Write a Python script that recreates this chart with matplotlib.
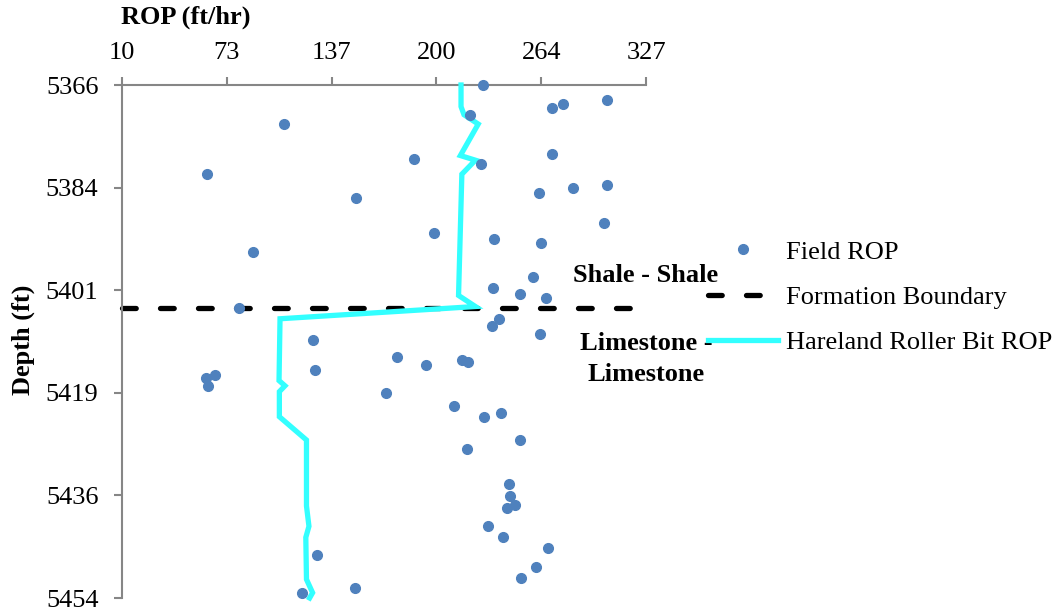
import matplotlib
matplotlib.use("Agg")
import matplotlib.pyplot as plt
import numpy as np
from matplotlib.lines import Line2D

plt.rcParams['font.family'] = ['Liberation Serif', 'DejaVu Serif']

# Field ROP measurements
field_rop = [228.3, 303.7, 276.9, 270.4, 220.3, 108.0, 270.4, 186.9, 227.4, 61.4,
             303.7, 283.0, 262.2, 151.7, 301.5, 198.9, 234.8, 263.7, 89.3, 258.5,
             234.6, 251.0, 266.8, 80.6, 238.0, 234.1, 262.9, 125.5, 176.1, 215.8,
             219.5, 194.2, 66.1, 126.8, 61.0, 61.8, 170.0, 210.6, 229.0, 239.1,
             250.6, 218.6, 244.1, 244.5, 243.2, 247.9, 231.3, 240.6, 267.8, 260.3,
             251.4, 127.9, 151.0, 118.6]
field_depth = [5366.0, 5368.5, 5369.2, 5370.0, 5371.1, 5372.7, 5377.9, 5378.7, 5379.5, 5381.2,
               5383.2, 5383.7, 5384.5, 5385.4, 5389.7, 5391.4, 5392.4, 5393.1, 5394.7, 5398.9,
               5400.9, 5401.9, 5402.5, 5404.2, 5406.1, 5407.4, 5408.7, 5409.7, 5412.7, 5413.1,
               5413.6, 5414.1, 5415.7, 5414.9, 5416.3, 5417.6, 5418.9, 5421.0, 5422.9, 5422.2,
               5426.9, 5428.5, 5434.4, 5436.5, 5438.5, 5438.1, 5441.7, 5443.6, 5445.4, 5448.6,
               5450.6, 5446.6, 5452.2, 5453.1]

# Hareland roller bit model ROP
hr_rop = [215.1, 215.1, 216.9, 225.5, 214.7, 223.8, 215.6, 213.6, 223.8, 105.6,
          105.0, 108.6, 105.2, 105.2, 121.6, 121.6, 123.1, 121.2, 121.6, 125.3, 123.5]
hr_depth = [5366.0, 5369.7, 5371.1, 5372.7, 5378.1, 5378.9, 5381.3, 5402.1, 5404.0, 5406.1,
            5416.7, 5417.6, 5418.6, 5422.9, 5426.9, 5438.2, 5441.7, 5443.6, 5450.8, 5453.1, 5454.0]

# Formation boundary
boundary_rop = [10, 327]
boundary_depth = [5404.2, 5404.2]

x_ticks = [10, 73.4, 136.8, 200.2, 263.6, 327]
x_labels = ['10', '73', '137', '200', '264', '327']
y_ticks = [5366, 5383.6, 5401.2, 5418.8, 5436.4, 5454]
y_labels = ['5366', '5384', '5401', '5419', '5436', '5454']

W, H = 1062, 613
fig = plt.figure(figsize=(W / 100, H / 100), dpi=100)
ax = fig.add_axes([122 / W, 1 - 598 / H, (646 - 122) / W, (598 - 85) / H])

FS = 19
grey = '#868686'

ax.plot(boundary_rop, boundary_depth, color='black', lw=3.8, dashes=(2.6, 4.6),
        dash_capstyle='round', label='Formation Boundary', zorder=2, clip_on=False)
ax.plot(hr_rop, hr_depth, color='#33FFFF', lw=3.8, solid_joinstyle='miter',
        label='Hareland Roller Bit ROP', zorder=3, clip_on=False)
ax.plot(field_rop, field_depth, linestyle='none', marker='o', ms=7,
        color='#4F81BD', label='Field ROP', zorder=4, clip_on=False)

ax.set_xlim(10, 327)
ax.set_ylim(5454, 5366)
ax.xaxis.tick_top()
ax.set_xticks(x_ticks)
ax.set_xticklabels(x_labels)
ax.set_yticks(y_ticks)
ax.set_yticklabels(y_labels)
ax.tick_params(axis='x', which='major', direction='out', length=6, width=1.5,
               color=grey, labelsize=FS, pad=9)
ax.tick_params(axis='y', which='major', direction='out', length=6, width=1.5,
               color=grey, labelsize=FS, pad=11)
for s in ['right', 'bottom']:
    ax.spines[s].set_visible(False)
for s in ['left', 'top']:
    ax.spines[s].set_color(grey)
    ax.spines[s].set_linewidth(1.5)

fig.text(186 / W, 1 - 17 / H, 'ROP (ft/hr)', fontsize=FS, fontweight='bold',
         ha='center', va='center')
fig.text(23 / W, 1 - 340 / H, 'Depth (ft)', fontsize=FS, fontweight='bold',
         ha='center', va='center', rotation=90)

fig.text(646 / W, 1 - 276 / H, 'Shale - Shale', fontsize=FS, fontweight='bold',
         ha='center', va='center')
fig.text(646 / W, 1 - 359 / H, 'Limestone -\nLimestone', fontsize=FS, fontweight='bold',
         ha='center', va='center', multialignment='center', linespacing=1.45)

handles, labels = ax.get_legend_handles_labels()
order = [2, 0, 1]
leg = fig.legend([handles[i] for i in order], [labels[i] for i in order],
                 loc='center left', bbox_to_anchor=(708 / W, 1 - 297 / H),
                 bbox_transform=fig.transFigure, frameon=False, fontsize=FS,
                 borderpad=0, borderaxespad=0, handlelength=2.65, handletextpad=0.3,
                 labelspacing=0.82)

fig.savefig('out.png', dpi=100)
